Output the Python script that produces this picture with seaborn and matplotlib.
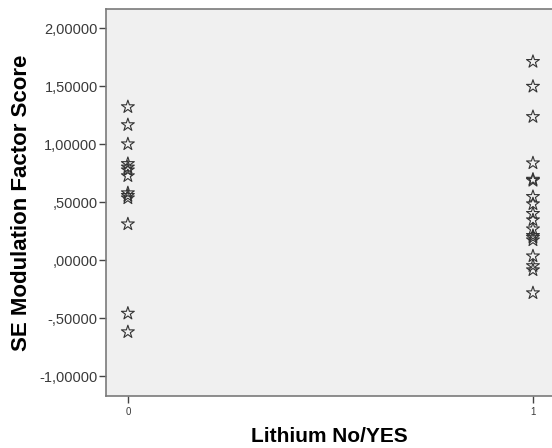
import numpy as np
import pandas as pd
import matplotlib
matplotlib.use("Agg")
import matplotlib.pyplot as plt
from matplotlib.ticker import FuncFormatter
import seaborn as sns

# %% data
lithium_no = [1.32, 1.165, 1.00, 0.83, 0.80, 0.775, 0.725, 0.578, 0.555, 0.534, 0.31, -0.46, -0.62]
lithium_yes = [1.71, 1.496, 1.235, 0.836, 0.695, 0.685, 0.546, 0.483, 0.40, 0.345,
               0.267, 0.21, 0.195, 0.172, 0.034, -0.05, -0.086, -0.284]

df = pd.DataFrame({
    "lithium": [0] * len(lithium_no) + [1] * len(lithium_yes),
    "score": lithium_no + lithium_yes,
})


def spss_fmt(v, pos):
    s = "%.5f" % v
    s = s.replace(".", ",")
    if s.startswith("0,"):
        s = s[1:]
    elif s.startswith("-0,"):
        s = "-" + s[2:]
    return s


# %% plot
sns.set_theme(style="white")
plt.rcParams["font.family"] = ["Liberation Sans", "DejaVu Sans"]

fig = plt.figure(figsize=(5.52, 4.48), dpi=100)
ax = fig.add_axes([106 / 552, 1 - 396 / 448, 1 - 106 / 552, (396 - 9) / 448])
ax.set_facecolor("#f0f0f0")

sns.scatterplot(data=df, x="lithium", y="score", ax=ax, marker="*", s=95,
                facecolors="none", edgecolor="#333333", linewidth=0.8, legend=False)

ax.set_xlim(-0.054, 1.047)
ax.set_ylim(-1.172, 2.164)
ax.set_xticks([0, 1])
ax.set_yticks([-1.0, -0.5, 0.0, 0.5, 1.0, 1.5, 2.0])
ax.yaxis.set_major_formatter(FuncFormatter(spss_fmt))
ax.tick_params(axis="both", direction="out", length=5, width=1, color="#444444",
               labelcolor="#3a3a3a", bottom=True, left=True)
ax.tick_params(axis="y", labelsize=10.5, pad=1)
ax.tick_params(axis="x", labelsize=7, pad=3)

for sp in ax.spines.values():
    sp.set_color("#7a7a7a")
    sp.set_linewidth(1.2)
ax.spines["right"].set_visible(False)

ax.set_xlabel("Lithium No/YES", fontsize=15, fontweight="bold", labelpad=7, color="black")
ax.set_ylabel("SE Modulation Factor Score", fontsize=16, fontweight="bold", labelpad=5, color="black")

fig.savefig("out.png", dpi=100)
